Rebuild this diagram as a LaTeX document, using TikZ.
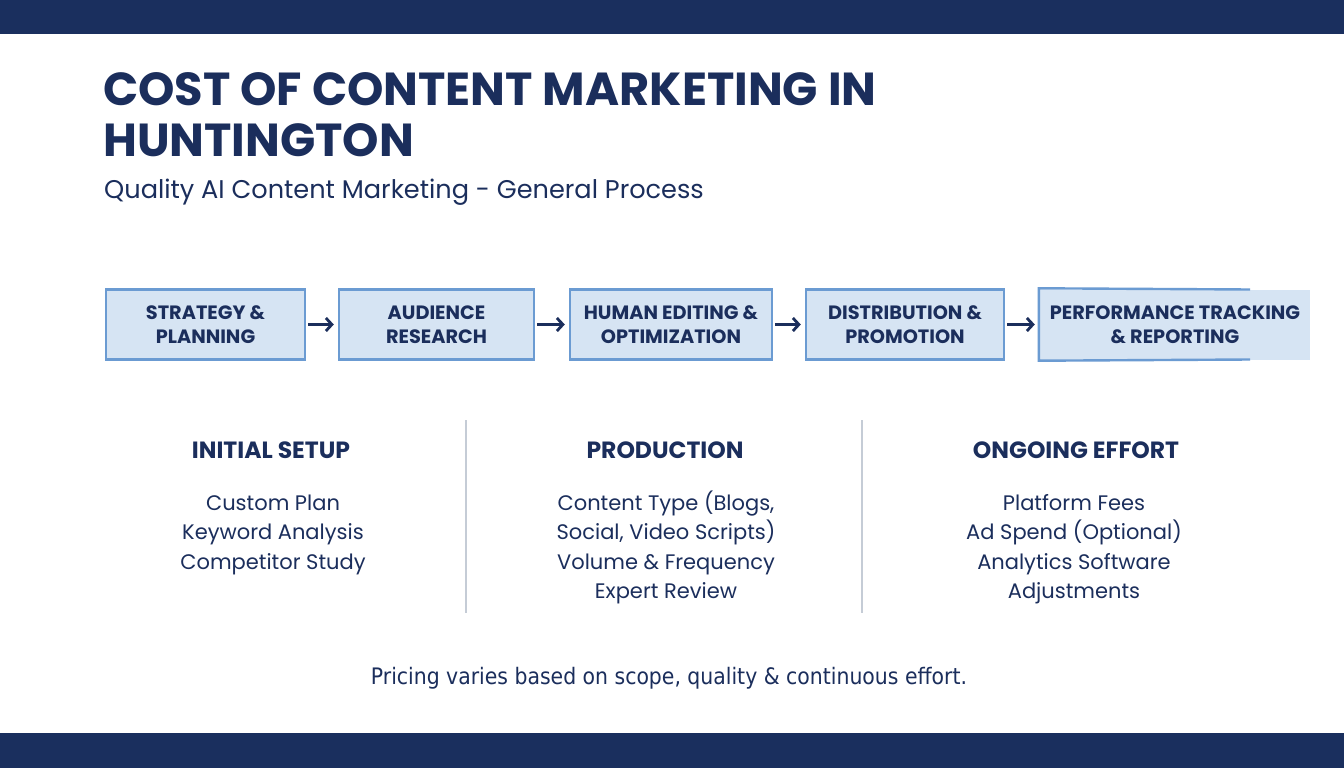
\documentclass[tikz,border=0pt]{standalone}
\usepackage{fontspec}
\setmainfont{Poppins}
\newfontfamily\footfont{DejaVu Sans Condensed}
\usetikzlibrary{arrows.meta}
\definecolor{navy}{HTML}{1B2E5C}
\definecolor{band}{HTML}{1A2F5E}
\definecolor{boxfill}{HTML}{D6E4F3}
\definecolor{boxline}{HTML}{6B9BD2}
\definecolor{divider}{HTML}{C5CCD6}
\tikzset{
  stepbox/.style={draw=boxline, line width=2.4pt, fill=boxfill, minimum height=70pt,
    align=center, text=navy, font=\fontsize{19.3}{24}\selectfont\bfseries, inner sep=0pt},
  flowarrow/.style={draw=navy, line width=2.8pt, -{Straight Barb[length=6pt,width=13pt,line width=2.8pt]}},
  colhead/.style={text=navy, font=\fontsize{23.5}{28}\selectfont\bfseries, anchor=base},
  colitem/.style={text=navy, font=\fontsize{21}{29.5}\selectfont, align=center, anchor=north, inner sep=0pt},
}
\begin{document}
\begin{tikzpicture}[x=1pt,y=-1pt]
\useasboundingbox (0,0) rectangle (1344,768);
\fill[white] (0,0) rectangle (1344,768);
\fill[band] (0,0) rectangle (1344,34);
\fill[band] (0,733) rectangle (1344,768);
% title
\node[anchor=base west, text=navy, inner sep=0pt, font=\fontsize{46.3}{50}\selectfont\bfseries] (t1) at (103,105) {COST OF CONTENT MARKETING IN};
\node[anchor=base west, text=navy, inner sep=0pt, font=\fontsize{46.3}{50}\selectfont\bfseries] (t2) at (103,156) {HUNTINGTON};
\node[anchor=base west, text=navy, inner sep=0pt, font=\fontsize{25.6}{30}\selectfont] (sub) at (104,198) {Quality AI Content Marketing - General Process};
% boxes
\node[stepbox, minimum width=199pt] (b1) at (205.5,324.5) {\raisebox{-2pt}{STRATEGY \&}\\\raisebox{-2pt}{PLANNING}};
\node[stepbox, minimum width=195pt] (b2) at (436.5,324.5) {\raisebox{-2pt}{AUDIENCE}\\\raisebox{-2pt}{RESEARCH}};
\node[stepbox, minimum width=202pt] (b3) at (671,324.5) {\raisebox{-2pt}{HUMAN EDITING \&}\\\raisebox{-2pt}{OPTIMIZATION}};
\node[stepbox, minimum width=198pt] (b4) at (905,324.5) {\raisebox{-2pt}{DISTRIBUTION \&}\\\raisebox{-2pt}{PROMOTION}};
\node[stepbox, draw=none, minimum width=270pt] (b5) at (1175,324.5) {\raisebox{-2pt}{PERFORMANCE TRACKING}\\\raisebox{-2pt}{\& REPORTING}};
\coordinate (b5t) at (1250,289.5);
\coordinate (b5b) at (1250,359.5);
\draw[boxline, line width=2.4pt] (b5t) -- (b5.north west) -- (b5.south west) -- (b5b);
\draw[flowarrow, shorten <=2pt, shorten >=4pt] (b1) -- (b2);
\draw[flowarrow, shorten <=2pt, shorten >=4pt] (b2) -- (b3);
\draw[flowarrow, shorten <=2pt, shorten >=4pt] (b3) -- (b4);
\draw[flowarrow, shorten <=2pt, shorten >=4pt] (b4) -- (b5);
% dividers
\coordinate (d1t) at (466,420); \coordinate (d1b) at (466,613);
\coordinate (d2t) at (862,420); \coordinate (d2b) at (862,613);
\draw[divider, line width=1.2pt] (d1t) -- (d1b);
\draw[divider, line width=1.2pt] (d2t) -- (d2b);
% columns
\node[colhead] (h1) at (271,458) {INITIAL SETUP};
\node[colhead] (h2) at (665,458) {PRODUCTION};
\node[colhead] (h3) at (1076,458) {ONGOING EFFORT};
\node[colitem] (i1) at (273,489.5) {\strut Custom Plan\\Keyword Analysis\\Competitor Study};
\node[colitem] (i2) at (666,489.5) {\strut Content Type (Blogs,\\Social, Video Scripts)\\Volume \& Frequency\\Expert Review};
\node[colitem] (i3) at (1074,489.5) {\strut Platform Fees\\Ad Spend (Optional)\\Analytics Software\\Adjustments};
% footer
\node[anchor=base, text=navy, inner sep=0pt, font=\footfont\fontsize{22.7}{27}\selectfont] (foot) at (669,684) {Pricing varies based on scope, quality \& continuous effort.};
\end{tikzpicture}
\end{document}
